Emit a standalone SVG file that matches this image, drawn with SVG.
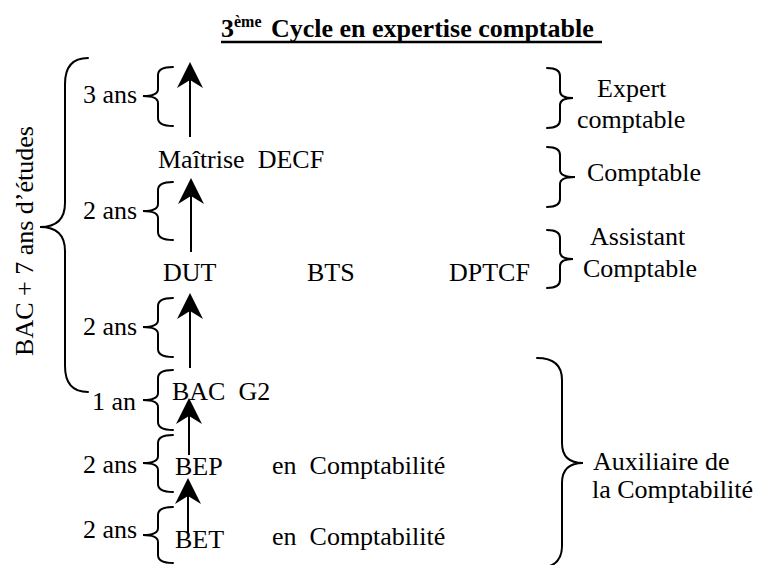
<svg xmlns="http://www.w3.org/2000/svg" width="757" height="565" viewBox="0 0 757 565">
<style>
  .brace { fill: none; stroke: #000; stroke-width: 2; stroke-linecap: round; }
  .arrow { fill: none; stroke: #000; stroke-width: 2; marker-end: url(#head); }
</style>
<defs>
  <marker id="head" markerUnits="userSpaceOnUse" markerWidth="30" markerHeight="30" viewBox="-10 -14 30 28" refX="0" refY="0" orient="auto">
    <path d="M 18 0 L -8 -13 L 0 0 L -8 13 Z" fill="#000"/>
  </marker>
</defs>
<rect width="757" height="565" fill="#fff"/>

<g font-family="Liberation Serif" font-size="26" fill="#000">
<g id="title">
  <text x="221" y="37" font-weight="bold" font-size="26">3<tspan font-size="16" dy="-10">ème</tspan><tspan x="271" dy="10">Cycle en expertise comptable</tspan></text>
  <line x1="221" y1="42" x2="602" y2="42" stroke="#000" stroke-width="2.5"/>
</g>

<g id="bac7">
  <path class="brace" d="M88,58 Q65,58 65,84 L65,203 Q65,227 40,227 Q65,227 65,251 L65,366 Q65,392 88,392"/>
  <text transform="translate(33,241) rotate(-90)" text-anchor="middle">BAC + 7 ans d’études</text>
</g>

<g id="durations">
  <path class="brace" d="M173,67 Q158,67 158,75 L158,89 Q158,96 143,96 Q158,96 158,103 L158,118 Q158,126 173,126"/>
  <text x="83" y="103">3 ans</text>
  <path class="brace" d="M173,182 Q158,182 158,190 L158,204 Q158,211 143,211 Q158,211 158,218 L158,232 Q158,240 173,240"/>
  <text x="83" y="219">2 ans</text>
  <path class="brace" d="M173,298 Q158,298 158,306 L158,320 Q158,327 143,327 Q158,327 158,334 L158,349 Q158,357 173,357"/>
  <text x="83" y="335">2 ans</text>
  <path class="brace" d="M173,370 Q158,370 158,378 L158,393 Q158,400 143,400 Q158,400 158,407 L158,422 Q158,430 173,430"/>
  <text x="92" y="410">1 an</text>
  <path class="brace" d="M173,435 Q158,435 158,443 L158,456 Q158,463 143,463 Q158,463 158,470 L158,484 Q158,492 173,492"/>
  <text x="83" y="473">2 ans</text>
  <path class="brace" d="M173,507 Q158,507 158,515 L158,528 Q158,535 143,535 Q158,535 158,542 L158,555 Q158,563 173,563"/>
  <text x="83" y="538">2 ans</text>
</g>

<g id="diplomas">
  <text x="158" y="168" xml:space="preserve">Maîtrise  DECF</text>
  <text x="163" y="281">DUT</text>
  <text x="307" y="281">BTS</text>
  <text x="449" y="281">DPTCF</text>
  <text x="172" y="400" xml:space="preserve">BAC  G2</text>
  <text x="175" y="475">BEP</text>
  <text x="272" y="474" xml:space="preserve">en  Comptabilité</text>
  <text x="175" y="548">BET</text>
  <text x="272" y="545" xml:space="preserve">en  Comptabilité</text>
</g>

<g id="professions">
  <path class="brace" d="M547,68 Q560,68 560,76 L560,91 Q560,98 573,98 Q560,98 560,105 L560,120 Q560,128 547,128"/>
  <text x="597" y="97">Expert</text>
  <text x="577" y="128">comptable</text>
  <path class="brace" d="M547,147 Q560,147 560,155 L560,170 Q560,177 575,177 Q560,177 560,184 L560,199 Q560,207 547,207"/>
  <text x="587" y="181">Comptable</text>
  <path class="brace" d="M547,230 Q560,230 560,238 L560,252 Q560,259 573,259 Q560,259 560,266 L560,280 Q560,288 547,288"/>
  <text x="590" y="245">Assistant</text>
  <text x="583" y="277">Comptable</text>
  <path class="brace" d="M537,358 Q562,358 562,380 L562,443 Q562,463 583,463 Q562,463 562,483 L562,546 Q562,568 537,568"/>
  <text x="593" y="470">Auxiliaire de</text>
  <text x="592" y="498">la Comptabilité</text>
</g>
</g>

<g id="connectors">
  <line class="arrow" x1="190" y1="137" x2="190" y2="80"/>
  <line class="arrow" x1="191" y1="252" x2="191" y2="196"/>
  <line class="arrow" x1="190" y1="368" x2="190" y2="311"/>
  <line class="arrow" x1="189" y1="455" x2="189" y2="416"/>
  <line class="arrow" x1="188" y1="533" x2="188" y2="496"/>
</g>
</svg>
